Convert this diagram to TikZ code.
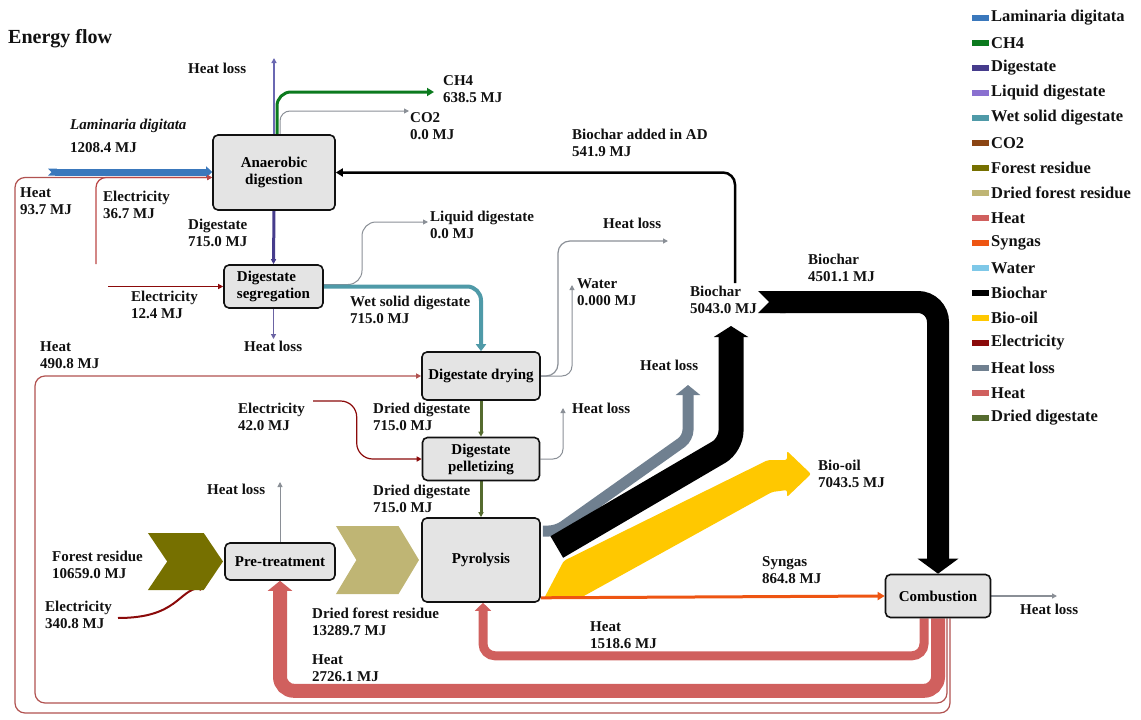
\documentclass[tikz,border=0pt]{standalone}
\usepackage{fontspec}
\setmainfont{Liberation Serif}
\usetikzlibrary{arrows.meta,positioning,calc,shapes.symbols,backgrounds}
\definecolor{efInk}{HTML}{111111}
\definecolor{efBox}{HTML}{E4E4E4}
\definecolor{efLam}{HTML}{3A78BC}
\definecolor{efCH}{HTML}{0B7A1E}
\definecolor{efDig}{HTML}{463C8C}
\definecolor{efLiq}{HTML}{8A70D0}
\definecolor{efWet}{HTML}{4F9AA8}
\definecolor{efCO}{HTML}{8B4513}
\definecolor{efFor}{HTML}{767000}
\definecolor{efDfr}{HTML}{BFB574}
\definecolor{efHeat}{HTML}{D0605E}
\definecolor{efSyn}{HTML}{EE5512}
\definecolor{efWat}{HTML}{7EC8E8}
\definecolor{efOil}{HTML}{FFC800}
\definecolor{efEl}{HTML}{8B0A0A}
\definecolor{efLoss}{HTML}{708090}
\definecolor{efDd}{HTML}{556B2F}
\definecolor{efGrey}{HTML}{8A8F96}
\definecolor{efPurp}{HTML}{6A68B2}
\newcommand{\eftxt}{\fontsize{15}{17}\selectfont\bfseries}
\newcommand{\efleg}{\fontsize{16.5}{18}\selectfont\bfseries}
\tikzset{
  proc/.style={draw=efInk, line width=1.6pt, fill=efBox, rounded corners=5pt, align=center, inner sep=2pt, font=\eftxt},
  lbl/.style={anchor=north west, inner sep=0pt, align=left, font=\eftxt, text=efInk},
  leg/.style={anchor=west, inner sep=0pt, font=\efleg, text=efInk,
    label={[fill=#1, minimum width=17pt, minimum height=6pt, inner sep=0pt, label distance=2pt]left:{}}},
  chev/.style={signal, signal to=east, signal from=west, inner sep=0pt, draw=none},
  fl/.style={-{Triangle[length=5pt,width=5pt]}, line width=1.2pt},
  hot/.style={fl, draw=efHeat!85!black, rounded corners=10pt},
  elec/.style={fl, draw=efEl},
  loss/.style={fl, draw=efGrey},
}
\begin{document}
\begin{tikzpicture}[x=1pt, y=-1pt]
\useasboundingbox (0,0) rectangle (1141,720);
\node[lbl, font=\fontsize{20}{24}\selectfont\bfseries] (ttl) at (8,29) {Energy flow};

% process boxes
\node[proc, minimum width=122pt, minimum height=75pt] (ad) at (274,172.5) {Anaerobic\\digestion};
\node[proc, minimum width=99pt, minimum height=43pt, align=left] (seg) at (273.5,286.5) {Digestate\\segregation};
\node[proc, minimum width=118pt, minimum height=48pt] (dry) at (481,376) {Digestate drying};
\node[proc, minimum width=117pt, minimum height=43pt] (pel) at (481,459) {Digestate\\pelletizing};
\node[proc, minimum width=118pt, minimum height=84pt] (pyr) at (481,560) {Pyrolysis};
\node[proc, minimum width=110pt, minimum height=37pt] (pre) at (280,561.5) {Pre-treatment};
\node[proc, minimum width=105pt, minimum height=43pt] (comb) at (938,596) {Combustion};

% feed chevrons
\node[chev, fill=efFor, minimum width=75pt, minimum height=57pt, signal pointer angle=112, left=1pt of pre] (fr) {};
\node[chev, fill=efDfr, minimum width=83pt, minimum height=68pt, signal pointer angle=118, left=2pt of pyr] (dfr) {};

% free ends
\coordinate (lamIn) at (48,172);
\coordinate (adLoss) at (274,58);
\coordinate (ch4Out) at (434,92);
\coordinate (co2Out) at (409,111);
\coordinate (el1In) at (96,264);
\coordinate (el2In) at (108,286.5);
\coordinate (segLoss) at (273.5,339);
\coordinate (liqOut) at (428,222);
\coordinate (dryLoss) at (668,241);
\coordinate (waterOut) at (572,285);
\coordinate (el3In) at (313,401);
\coordinate (pelLoss) at (563,408);
\coordinate (preLoss) at (280,482);
\coordinate (el4In) at (118,618);
\coordinate (pyrLoss) at (688,385);
\coordinate (bcUp) at (731,326);
\coordinate (oilOut) at (811,474);
\coordinate (bcTop) at (735,283);
\coordinate (bcStart) at (758,302);
\coordinate (combLoss) at (1057,596);

\begin{scope}[on background layer]
% heat loops from combustion
\draw[hot] ($(comb.south)+(12,0)$) |- (15,713) |- ($(ad.west)+(0,5)$);
\draw[hot] ($(comb.south)+(9,0)$) |- (35,703) |- (dry.west);
\draw[hot, draw=efHeat, line width=14pt, rounded corners=14pt, -{Triangle[width=24pt,length=10pt]}] (comb.south) |- ($(pre.south)+(0,110)$) -- (pre.south);
\draw[hot, draw=efHeat, line width=9pt, rounded corners=12pt, -{Triangle[width=16pt,length=8pt]}] ($(comb.south)+(-14,0)$) |- ($(pyr.south)+(2,53)$) -- ($(pyr.south)+(2,0)$);
% anaerobic digestion
\draw[line width=7pt, draw=efLam, {Triangle Cap[reversed]}-{Triangle[width=11pt,length=6pt]}] (lamIn) -- ($(ad.west)+(0,-0.5)$);
\draw[elec, rounded corners=10pt, draw=efHeat!70!efEl] (el1In) |- ($(ad.west)+(0,5)$);
\draw[fl, draw=efPurp, line width=2pt] (ad.north) -- (adLoss);
\draw[fl, draw=efCH, line width=3pt, rounded corners=14pt, -{Triangle[length=7pt,width=8pt]}] ($(ad.north)+(3,0)$) |- (ch4Out);
\draw[loss, line width=1pt, rounded corners=10pt] ($(ad.north)+(6,0)$) |- (co2Out);
\draw[fl, draw=black, line width=2.5pt, rounded corners=12pt, -{Triangle[length=7pt,width=8pt]}] (bcTop) |- (ad.east);
\draw[fl, draw=efDig, line width=3pt] (ad.south) -- (seg.north);
% segregation and drying
\draw[elec] (el2In) -- (seg.west);
\draw[fl, draw=efDig!80, line width=1.2pt] (seg.south) -- (segLoss);
\draw[loss, line width=1pt, rounded corners=14pt] ($(seg.east)+(0,-2)$) -| ($(liqOut)+(-66,0)$) -- (liqOut);
\draw[fl, draw=efWet, line width=4pt, rounded corners=14pt, -{Triangle[length=7pt,width=10pt]}] (seg.east) -| (dry.north);
\draw[loss, rounded corners=12pt] (dry.east) -| ($(dryLoss)+(-110,0)$) -- (dryLoss);
\draw[loss, line width=1pt, rounded corners=10pt] (dry.east) -| (waterOut);
\draw[fl, draw=efDd, line width=3pt] (dry.south) -- (pel.north);
\draw[elec, rounded corners=16pt] (el3In) -| ($(pel.west)+(-65,0)$) -- (pel.west);
\draw[loss, line width=1pt, rounded corners=10pt] (pel.east) -| (pelLoss);
\draw[fl, draw=efDd, line width=3pt] (pel.south) -- (pyr.north);
% forest residue line
\draw[loss, line width=1pt] (pre.north) -- (preLoss);
\draw[elec, line width=2pt, -{Triangle[length=6pt,width=6pt]}] (el4In) .. controls (178,618) and (178,590) .. ($(fr.south)+(20,-3)$);
% pyrolysis products
\draw[draw=efLoss, line width=11pt, rounded corners=8pt, -{Triangle[width=24pt,length=10pt]}] ($(pyr.east)+(2,-29)$) -- ($(pyr.east)+(16,-29)$) -- (688,438) -- (pyrLoss);
\draw[draw=black, line width=25pt, rounded corners=14pt, -{Triangle[width=34pt,length=11pt]}] ($(pyr.east)+(16,-13)$) -- (731,445) -- (bcUp);
\fill[efOil, rounded corners=2pt] ($(pyr.south east)+(3,-4)$) -- ($(pyr.south east)+(23,-42)$) -- (768,460) -- ($(oilOut)+(-24,-14)$) -- ($(oilOut)+(-24,-23)$) -- (oilOut) -- ($(oilOut)+(-24,23)$) -- ($(oilOut)+(-24,16)$) -- (772,492) -- ($(pyr.south east)+(38,-4)$) -- cycle;
\draw[fl, draw=efSyn, line width=3pt, -{Triangle[length=7pt,width=8pt]}] ($(pyr.south east)+(0,-5)$) -- (comb.west);
\draw[draw=black, line width=22pt, rounded corners=20pt, {Triangle Cap[reversed]}-{Triangle[width=40pt,length=15pt]}] (bcStart) -| (comb.north);
\draw[loss] (comb.east) -- (combLoss);
\end{scope}

% flow labels
\node[lbl] (lAdLoss) at (188,63) {Heat loss};
\node[lbl] (lCh4) at (443,75) {CH4\\638.5 MJ};
\node[lbl] (lCo2) at (410,112) {CO2\\0.0 MJ};
\node[lbl] (lLam) at (70,119) {\textit{Laminaria digitata}};
\node[lbl] (lLamV) at (70,142) {1208.4 MJ};
\node[lbl] (lBcAd) at (572,129) {Biochar added in AD\\541.9 MJ};
\node[lbl] (lHt1) at (20,187) {Heat\\93.7 MJ};
\node[lbl] (lEl1) at (103,191) {Electricity\\36.7 MJ};
\node[lbl] (lDig) at (188,219) {Digestate\\715.0 MJ};
\node[lbl] (lLiq) at (430,211) {Liquid digestate\\0.0 MJ};
\node[lbl] (lDryLoss) at (603,218) {Heat loss};
\node[lbl] (lEl2) at (131,291) {Electricity\\12.4 MJ};
\node[lbl] (lWet) at (350,296) {Wet solid digestate\\715.0 MJ};
\node[lbl] (lWat) at (577,278) {Water\\0.000 MJ};
\node[lbl] (lBc1) at (690,286) {Biochar\\5043.0 MJ};
\node[lbl] (lBc2) at (808,254) {Biochar\\4501.1 MJ};
\node[lbl] (lSegLoss) at (244,341) {Heat loss};
\node[lbl] (lHt2) at (40,341) {Heat\\490.8 MJ};
\node[lbl] (lPyrLoss) at (640,360) {Heat loss};
\node[lbl] (lEl3) at (238,403) {Electricity\\42.0 MJ};
\node[lbl] (lDd1) at (373,403) {Dried digestate\\715.0 MJ};
\node[lbl] (lPelLoss) at (572,403) {Heat loss};
\node[lbl] (lOil) at (818,460) {Bio-oil\\7043.5 MJ};
\node[lbl] (lPreLoss) at (207,484) {Heat loss};
\node[lbl] (lDd2) at (373,485) {Dried digestate\\715.0 MJ};
\node[lbl] (lFr) at (52,551) {Forest residue\\10659.0 MJ};
\node[lbl] (lSyn) at (762,556) {Syngas\\864.8 MJ};
\node[lbl] (lEl4) at (45,601) {Electricity\\340.8 MJ};
\node[lbl] (lDfr) at (312,608) {Dried forest residue\\13289.7 MJ};
\node[lbl] (lCombLoss) at (1020,604) {Heat loss};
\node[lbl] (lHt3) at (590,621) {Heat\\1518.6 MJ};
\node[lbl] (lHt4) at (312,654) {Heat\\2726.1 MJ};

% legend
\node[leg=efLam] (k1) at (991,18) {Laminaria digitata};
\node[leg=efCH] (k2) at (991,43) {CH4};
\node[leg=efDig] (k3) at (991,68) {Digestate};
\node[leg=efLiq] (k4) at (991,93) {Liquid digestate};
\node[leg=efWet] (k5) at (991,118) {Wet solid digestate};
\node[leg=efCO] (k6) at (991,143) {CO2};
\node[leg=efFor] (k7) at (991,168) {Forest residue};
\node[leg=efDfr] (k8) at (991,193) {Dried forest residue};
\node[leg=efHeat] (k9) at (991,218) {Heat};
\node[leg=efSyn] (k10) at (991,243) {Syngas};
\node[leg=efWat] (k11) at (991,268) {Water};
\node[leg=black] (k12) at (991,293) {Biochar};
\node[leg=efOil] (k13) at (991,318) {Bio-oil};
\node[leg=efEl] (k14) at (991,343) {Electricity};
\node[leg=efLoss] (k15) at (991,368) {Heat loss};
\node[leg=efHeat] (k16) at (991,393) {Heat};
\node[leg=efDd] (k17) at (991,418) {Dried digestate};
\end{tikzpicture}
\end{document}
